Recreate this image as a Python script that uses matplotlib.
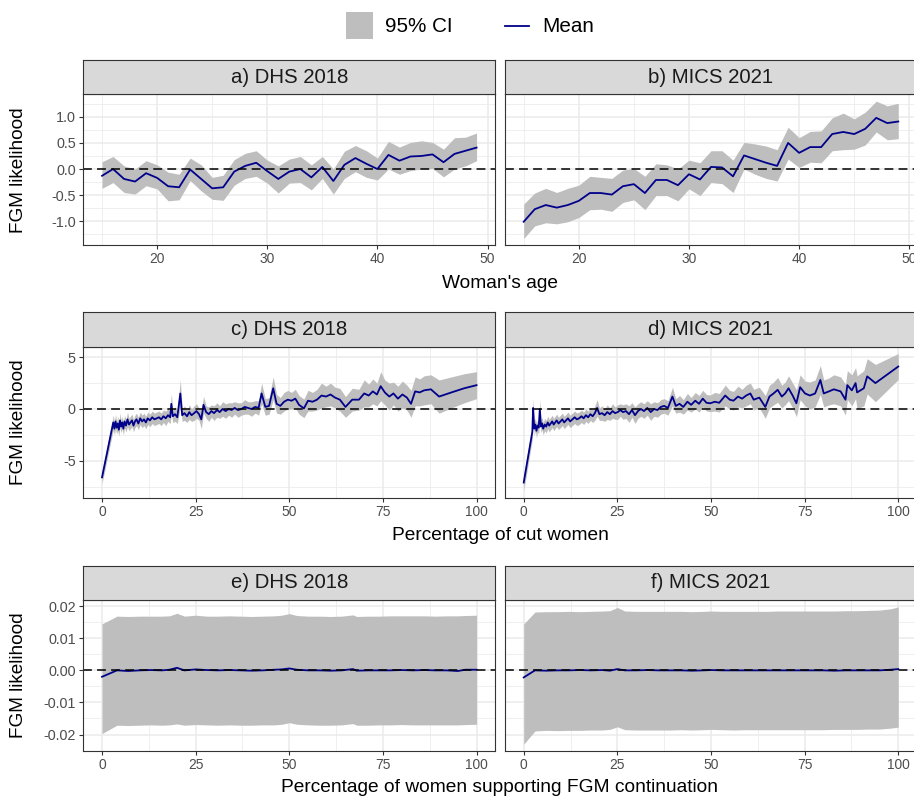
import matplotlib
matplotlib.use("agg")
import matplotlib.pyplot as plt
from matplotlib.patches import Rectangle
from matplotlib.lines import Line2D
from matplotlib.ticker import FixedLocator

plt.rcParams["font.family"] = ["Liberation Sans", "DejaVu Sans"]
plt.rcParams["axes.unicode_minus"] = False

# ---- row 1: woman's age ----
ages = list(range(15, 50))
a_mean = [-0.13, 0.00, -0.19, -0.24, -0.08, -0.17, -0.33, -0.35, -0.01, -0.19,
          -0.37, -0.35, -0.05, 0.06, 0.12, -0.04, -0.19, -0.05, 0.00, -0.16,
          0.04, -0.23, 0.08, 0.21, 0.10, 0.00, 0.27, 0.16, 0.24, 0.25,
          0.28, 0.13, 0.29, 0.35, 0.41]
a_lo = [-0.37, -0.26, -0.45, -0.48, -0.32, -0.38, -0.61, -0.59, -0.22, -0.42,
        -0.58, -0.60, -0.31, -0.18, -0.14, -0.27, -0.46, -0.27, -0.26, -0.40,
        -0.18, -0.48, -0.18, -0.05, -0.16, -0.21, 0.00, -0.10, -0.03, 0.00,
        0.01, -0.15, 0.00, 0.06, 0.16]
a_hi = [0.14, 0.24, 0.06, 0.00, 0.16, 0.08, -0.06, -0.10, 0.21, 0.08,
        -0.16, -0.12, 0.18, 0.30, 0.35, 0.17, 0.06, 0.19, 0.24, 0.08,
        0.24, 0.00, 0.34, 0.45, 0.35, 0.21, 0.53, 0.42, 0.51, 0.54,
        0.51, 0.38, 0.60, 0.61, 0.69]
b_mean = [-1.01, -0.77, -0.69, -0.74, -0.69, -0.61, -0.46, -0.46, -0.49, -0.33,
          -0.29, -0.46, -0.21, -0.21, -0.31, -0.10, -0.20, 0.04, 0.03, -0.14,
          0.26, 0.19, 0.12, 0.06, 0.50, 0.31, 0.42, 0.42, 0.67, 0.71,
          0.67, 0.77, 0.98, 0.88, 0.91]
b_lo = [-1.33, -1.09, -1.03, -1.05, -1.01, -0.93, -0.78, -0.77, -0.81, -0.64,
        -0.59, -0.78, -0.51, -0.51, -0.61, -0.38, -0.51, -0.26, -0.28, -0.45,
        0.00, -0.10, -0.18, -0.23, 0.19, 0.03, 0.13, 0.12, 0.35, 0.37,
        0.38, 0.46, 0.71, 0.56, 0.58]
b_hi = [-0.67, -0.46, -0.37, -0.45, -0.37, -0.31, -0.14, -0.16, -0.18, -0.02,
        0.01, -0.14, 0.10, 0.08, 0.00, 0.17, 0.12, 0.35, 0.35, 0.17,
        0.51, 0.48, 0.44, 0.37, 0.80, 0.60, 0.72, 0.73, 0.98, 1.07,
        0.96, 1.09, 1.30, 1.21, 1.26]

# ---- row 2: percentage of cut women ----
c_x = [0, 3.0, 3.3, 3.6, 3.9, 4.2, 4.5, 4.8, 5.1, 5.4,
       5.7, 6.0, 6.4, 6.8, 7.2, 7.6, 8.0, 8.4, 8.8, 9.2,
       9.7, 10.2, 10.7, 11.2, 11.7, 12.2, 12.8, 13.4, 14.0, 14.6,
       15.2, 15.8, 16.4, 17.0, 17.6, 18.2, 18.5, 18.9, 19.5, 20.1,
       20.9, 21.4, 22.0, 22.7, 23.3, 23.9, 24.6, 25.2, 25.9, 26.5,
       27.1, 27.8, 28.5, 29.2, 29.9, 30.7, 31.4, 32.2, 33.0, 33.8,
       34.6, 35.4, 36.3, 37.2, 38.1, 39.0, 39.9, 40.9, 41.8, 42.6,
       43.6, 44.6, 45.7, 46.6, 47.6, 48.6, 49.6, 50.6, 51.6, 52.6,
       53.9, 55.0, 56.2, 57.4, 58.6, 59.8, 61.0, 62.2, 63.5, 65.0,
       66.8, 68.6, 70.0, 71.2, 72.3, 73.4, 74.4, 75.5, 76.7, 77.8,
       79.0, 80.2, 81.4, 82.5, 83.6, 84.8, 86.0, 87.8, 90.0, 93.3,
       96.7, 100]
c_mean = [-6.6, -1.3, -1.9, -1.2, -1.8, -1.4, -2.0, -1.1, -1.7, -1.3,
          -1.9, -1.2, -1.6, -1.0, -1.5, -1.3, -1.1, -1.6, -1.2, -1.0,
          -1.4, -0.9, -1.2, -1.0, -1.3, -0.9, -1.1, -0.8, -1.0, -0.9,
          -0.8, -1.0, -0.7, -0.9, -0.6, -0.8, 0.5, -0.7, -0.5, -0.8,
          1.5, -0.6, -0.4, -0.7, -0.3, -0.6, -0.4, -0.2, -0.5, -1.0,
          0.4, -0.3, -0.5, -0.2, -0.4, -0.1, -0.3, 0.0, -0.2, 0.0,
          -0.1, 0.1, -0.1, 0.0, 0.2, 0.1, 0.0, 0.2, 0.1, 1.5,
          0.2, 0.3, 2.0, 0.5, 0.3, 0.7, 0.9, 0.8, 1.0, 0.4,
          0.06, 0.8, 0.7, 0.9, 1.3, 1.2, 1.4, 1.1, 0.9, 0.2,
          0.9, 0.9, 1.5, 1.3, 1.7, 1.4, 2.2, 1.6, 1.2, 1.5,
          1.0, 1.4, 1.1, 0.5, 1.7, 1.6, 1.8, 1.9, 1.2, 1.6,
          2.0, 2.3]
c_half = [0.6, 0.7, 0.6, 0.7, 0.6, 0.7, 0.6, 0.7, 0.6, 0.6,
          0.6, 0.6, 0.6, 0.7, 0.6, 0.6, 0.6, 0.6, 0.6, 0.6,
          0.6, 0.6, 0.6, 0.6, 0.6, 0.6, 0.6, 0.6, 0.6, 0.6,
          0.6, 0.6, 0.6, 0.7, 0.6, 0.6, 1.0, 0.6, 0.7, 0.6,
          1.3, 0.6, 0.7, 0.6, 0.7, 0.6, 0.7, 0.7, 0.6, 0.9,
          0.8, 0.6, 0.7, 0.6, 0.7, 0.7, 0.6, 0.7, 0.7, 0.6,
          0.7, 0.6, 0.7, 0.6, 0.7, 0.6, 0.7, 0.6, 0.7, 1.0,
          0.8, 0.8, 1.1, 0.9, 0.8, 0.9, 0.9, 0.8, 0.9, 0.9,
          0.9, 1.0, 0.9, 1.0, 1.2, 1.0, 1.1, 1.0, 1.1, 1.0,
          1.1, 1.0, 1.3, 1.1, 1.2, 1.1, 1.4, 1.2, 1.3, 1.1,
          1.2, 1.3, 1.2, 1.3, 1.4, 1.3, 1.4, 1.4, 1.6, 1.5,
          1.4, 1.3]
d_x = [0, 2.3, 2.5, 2.8, 3.1, 3.4, 3.7, 4.0, 4.3, 4.6,
       4.9, 5.2, 5.6, 6.0, 6.4, 6.8, 7.2, 7.6, 8.0, 8.4,
       8.8, 9.3, 9.8, 10.3, 10.8, 11.3, 11.8, 12.4, 13.0, 13.6,
       14.2, 14.8, 15.4, 16.0, 16.6, 17.2, 17.8, 18.4, 19.0, 19.6,
       20.2, 20.9, 21.6, 22.3, 23.0, 23.7, 24.4, 25.1, 25.8, 26.5,
       27.3, 28.1, 28.9, 29.7, 30.5, 31.3, 32.1, 33.0, 33.9, 34.8,
       35.7, 36.6, 37.5, 38.5, 39.7, 40.6, 41.6, 42.6, 43.7, 44.7,
       45.8, 46.8, 47.8, 48.8, 49.8, 51.0, 52.2, 53.8, 55.0, 56.0,
       57.2, 58.3, 59.4, 60.5, 61.4, 62.9, 64.5, 65.6, 66.7, 67.8,
       68.9, 69.8, 70.7, 71.8, 72.8, 73.8, 75.1, 76.4, 77.8, 79.2,
       80.1, 81.5, 82.8, 84.6, 85.9, 86.4, 87.6, 88.6, 89.0, 90.8,
       91.7, 93.9, 100]
d_mean = [-7.1, -2.2, 0.1, -1.9, -1.5, -2.1, -1.6, -1.8, 0.0, -1.7,
          -1.4, -1.9, -1.5, -1.7, -1.3, -1.6, -1.4, -1.2, -1.5, -1.3,
          -1.1, -1.4, -1.2, -1.0, -1.3, -1.1, -0.9, -1.2, -1.0, -0.8,
          -1.0, -0.9, -0.7, -0.9, -0.6, -0.8, -0.5, -0.7, -0.4, 0.1,
          -0.5, -0.4, -0.6, -0.3, -0.5, -0.2, -0.4, -0.3, -0.1, -0.3,
          -0.2, -0.5, -0.1, -0.6, -0.2, 0.0, -0.2, 0.1, -0.3, 0.0,
          -0.1, 0.2, 0.3, 0.1, 1.2, 0.3, 0.5, 0.2, 0.7, 0.4,
          0.8, 0.5, 1.0, 0.6, 0.55, 0.7, 0.6, 1.3, 0.9, 0.8,
          1.2, 1.0, 1.3, 1.5, 0.9, 1.1, 0.2, 1.2, 1.5, 1.85,
          1.2, 1.5, 2.0, 1.3, 0.55, 2.1, 1.5, 1.3, 1.5, 2.8,
          1.5, 1.7, 1.9, 1.7, 0.9, 2.3, 1.8, 2.5, 1.6, 2.0,
          3.15, 2.5, 4.1]
d_half = [0.8, 0.7, 0.9, 0.7, 0.6, 0.7, 0.6, 0.6, 0.9, 0.6,
          0.6, 0.6, 0.6, 0.6, 0.6, 0.6, 0.6, 0.6, 0.6, 0.6,
          0.6, 0.6, 0.6, 0.6, 0.6, 0.6, 0.6, 0.6, 0.6, 0.6,
          0.6, 0.6, 0.6, 0.6, 0.6, 0.6, 0.6, 0.6, 0.7, 0.8,
          0.6, 0.7, 0.6, 0.7, 0.6, 0.7, 0.6, 0.7, 0.6, 0.7,
          0.7, 0.8, 0.7, 0.8, 0.7, 0.7, 0.7, 0.7, 0.8, 0.7,
          0.7, 0.7, 0.7, 0.7, 0.9, 0.7, 0.8, 0.7, 0.8, 0.7,
          0.8, 0.8, 0.8, 0.8, 0.8, 0.9, 0.9, 1.0, 0.9, 0.9,
          1.0, 0.9, 1.0, 1.0, 1.0, 1.0, 1.1, 1.1, 1.1, 1.2,
          1.1, 1.1, 1.2, 1.2, 1.3, 1.2, 1.2, 1.3, 1.3, 1.4,
          1.3, 1.3, 1.4, 1.4, 1.5, 1.4, 1.5, 1.5, 1.6, 1.7,
          1.7, 1.8, 1.25]

# ---- row 3: percentage of women supporting continuation ----
e_x = [0, 4, 7, 10, 13, 16, 18, 20, 22, 25,
       28, 31, 34, 37, 40, 43, 46, 48, 50, 52,
       55, 58, 61, 64, 67, 68, 71, 74, 77, 80,
       83, 86, 89, 92, 95, 97, 100]
e_mean = [-0.0020, 0.0000, -0.0002, 0.0000, 0.0001, 0.0000, 0.0002, 0.0008, 0.0000, 0.0003,
          0.0001, 0.0000, 0.0001, 0.0000, -0.0001, 0.0000, 0.0002, 0.0003, 0.0006, 0.0002,
          0.0000, 0.0000, -0.0001, 0.0000, 0.0004, -0.0001, 0.0000, 0.0000, 0.0000, 0.0001,
          0.0000, 0.0001, 0.0000, 0.0000, -0.0002, 0.0002, 0.0002]
e_lo = [-0.0197, -0.0171, -0.0172, -0.0171, -0.0170, -0.0171, -0.0170, -0.0167, -0.0171, -0.0169,
        -0.0170, -0.0171, -0.0170, -0.0171, -0.0171, -0.0170, -0.0170, -0.0168, -0.0163, -0.0168,
        -0.0170, -0.0171, -0.0171, -0.0170, -0.0166, -0.0171, -0.0171, -0.0170, -0.0170, -0.0169,
        -0.0170, -0.0170, -0.0170, -0.0170, -0.0170, -0.0169, -0.0168]
e_hi = [0.0145, 0.0169, 0.0168, 0.0169, 0.0169, 0.0169, 0.0170, 0.0178, 0.0169, 0.0172,
        0.0169, 0.0169, 0.0170, 0.0169, 0.0168, 0.0169, 0.0170, 0.0172, 0.0177, 0.0171,
        0.0169, 0.0169, 0.0168, 0.0169, 0.0173, 0.0168, 0.0169, 0.0169, 0.0170, 0.0170,
        0.0170, 0.0170, 0.0169, 0.0170, 0.0170, 0.0171, 0.0172]
f_x = [0, 3, 6, 9, 12, 15, 18, 21, 23, 25,
       27, 30, 33, 36, 39, 42, 45, 48, 50, 53,
       56, 59, 62, 65, 68, 71, 74, 77, 80, 83,
       86, 89, 92, 95, 98, 100]
f_mean = [-0.0022, 0.0000, -0.0001, 0.0000, 0.0000, 0.0001, 0.0000, 0.0001, -0.0001, 0.0004,
          0.0000, 0.0000, 0.0001, 0.0000, 0.0000, 0.0000, -0.0001, 0.0000, 0.0001, 0.0000,
          0.0000, 0.0000, 0.0000, 0.0000, 0.0000, 0.0000, 0.0000, 0.0000, 0.0000, -0.0001,
          0.0000, 0.0000, 0.0000, 0.0000, 0.0002, 0.0004]
f_lo = [-0.0230, -0.0189, -0.0187, -0.0188, -0.0187, -0.0187, -0.0186, -0.0186, -0.0184, -0.0176,
        -0.0185, -0.0186, -0.0186, -0.0186, -0.0186, -0.0185, -0.0186, -0.0185, -0.0184, -0.0185,
        -0.0186, -0.0185, -0.0185, -0.0185, -0.0185, -0.0185, -0.0185, -0.0185, -0.0185, -0.0184,
        -0.0184, -0.0184, -0.0183, -0.0183, -0.0180, -0.0177]
f_hi = [0.0145, 0.0182, 0.0183, 0.0183, 0.0184, 0.0183, 0.0184, 0.0185, 0.0186, 0.0196,
        0.0185, 0.0184, 0.0184, 0.0184, 0.0184, 0.0184, 0.0183, 0.0184, 0.0185, 0.0184,
        0.0184, 0.0184, 0.0184, 0.0184, 0.0185, 0.0185, 0.0185, 0.0185, 0.0185, 0.0185,
        0.0186, 0.0186, 0.0187, 0.0188, 0.0192, 0.0198]

c_lo = [m - h for m, h in zip(c_mean, c_half)]
c_hi = [m + h for m, h in zip(c_mean, c_half)]
d_lo = [m - h for m, h in zip(d_mean, d_half)]
d_hi = [m + h for m, h in zip(d_mean, d_half)]

W, H = 914, 796
BAND = "#BEBEBE"
LINE = "#00008B"
DARK = "#333333"
GRID = "#EBEBEB"

fig = plt.figure(figsize=(W / 100, H / 100), dpi=100)


def rect(left, top, right, bottom):
    return [left / W, 1 - bottom / H, (right - left) / W, (bottom - top) / H]


def expand(lo, hi):
    pad = (hi - lo) * 0.05
    return lo - pad, hi + pad


def panel(left, top, title, x, mean, lo, hi, xlim, ylim, xt, xm, yt, ym, ylabels):
    right, bottom = left + 412, top + 151
    ax = fig.add_axes(rect(left, top, right, bottom))
    ax.fill_between(x, lo, hi, color=BAND, lw=0, zorder=2)
    ax.plot(x, mean, color=LINE, lw=1.3, zorder=3)
    ax.axhline(0, color="black", lw=1.1, ls=(0, (5.8, 3.4)), zorder=4)
    ax.set_xlim(*xlim)
    ax.set_ylim(*ylim)
    ax.xaxis.set_major_locator(FixedLocator(xt))
    ax.xaxis.set_minor_locator(FixedLocator(xm))
    ax.yaxis.set_major_locator(FixedLocator(yt))
    ax.yaxis.set_minor_locator(FixedLocator(ym))
    ax.set_xticklabels([f"{v:g}" for v in xt])
    ax.grid(which="major", color=GRID, lw=1.1, zorder=0)
    ax.grid(which="minor", color=GRID, lw=0.55, zorder=0)
    ax.set_axisbelow(True)
    ax.tick_params(which="minor", length=0)
    ax.tick_params(which="major", length=3.2, width=0.8, color=DARK,
                   labelcolor="#4D4D4D")
    ax.tick_params(axis="x", pad=1.8, labelsize=9.9)
    ax.tick_params(axis="y", pad=2.2, labelsize=10.4)
    if ylabels is None:
        ax.tick_params(axis="y", length=0, labelleft=False)
    else:
        ax.set_yticklabels(ylabels)
    for sp in ax.spines.values():
        sp.set_color(DARK)
        sp.set_linewidth(0.8)
        sp.set_zorder(5)
    # facet strip
    sx = fig.add_axes(rect(left, top - 34.5, right, top))
    sx.set_facecolor("#D9D9D9")
    sx.set_xticks([])
    sx.set_yticks([])
    for sp in sx.spines.values():
        sp.set_color(DARK)
        sp.set_linewidth(0.8)
    sx.text(0.5, 0.5, title, transform=sx.transAxes, ha="center", va="center",
            fontsize=14.7, color="#1A1A1A")
    return ax


rows = [
    dict(top=94.3, xlab="Woman's age", xlab_y=283,
         panels=[("a) DHS 2018", ages, a_mean, a_lo, a_hi),
                 ("b) MICS 2021", ages, b_mean, b_lo, b_hi)],
         xlim=expand(15, 49), xt=[20, 30, 40, 50], xm=[15, 25, 35, 45],
         yt=[-1, -0.5, 0, 0.5, 1], ym=[-1.25, -0.75, -0.25, 0.25, 0.75, 1.25],
         ylabels=["-1.0", "-0.5", "0.0", "0.5", "1.0"]),
    dict(top=346.7, xlab="Percentage of cut women", xlab_y=535,
         panels=[("c) DHS 2018", c_x, c_mean, c_lo, c_hi),
                 ("d) MICS 2021", d_x, d_mean, d_lo, d_hi)],
         xlim=expand(0, 100), xt=[0, 25, 50, 75, 100], xm=[12.5, 37.5, 62.5, 87.5],
         yt=[-5, 0, 5], ym=[-7.5, -2.5, 2.5], ylabels=["-5", "0", "5"]),
    dict(top=600, xlab="Percentage of women supporting FGM continuation", xlab_y=787,
         panels=[("e) DHS 2018", e_x, e_mean, e_lo, e_hi),
                 ("f) MICS 2021", f_x, f_mean, f_lo, f_hi)],
         xlim=expand(0, 100), xt=[0, 25, 50, 75, 100], xm=[12.5, 37.5, 62.5, 87.5],
         yt=[-0.02, -0.01, 0, 0.01, 0.02], ym=[-0.015, -0.005, 0.005, 0.015],
         ylabels=["-0.02", "-0.01", "0.00", "0.01", "0.02"]),
]

for row in rows:
    lows = [v for p in row["panels"] for v in p[3]]
    highs = [v for p in row["panels"] for v in p[4]]
    ylim = expand(min(lows), max(highs))
    for i, (title, x, mean, lo, hi) in enumerate(row["panels"]):
        left = 83.3 if i == 0 else 505
        panel(left, row["top"], title, x, mean, lo, hi, row["xlim"], ylim,
              row["xt"], row["xm"], row["yt"], row["ym"],
              row["ylabels"] if i == 0 else None)
    fig.text(500 / W, 1 - row["xlab_y"] / H, row["xlab"], ha="center",
             va="center", fontsize=13.8)
    fig.text(18.5 / W, 1 - (row["top"] + 75.5) / H, "FGM likelihood",
             rotation=90, ha="center", va="center", fontsize=13.7)

# legend
fig.patches.append(Rectangle((346 / W, 1 - 39 / H), 27 / W, 27 / H,
                             transform=fig.transFigure, color=BAND, lw=0))
fig.text(385 / W, 1 - 26 / H, "95% CI", ha="left", va="center", fontsize=14.9)
fig.lines.append(Line2D([505 / W, 529 / W], [1 - 26 / H, 1 - 26 / H],
                        transform=fig.transFigure, color=LINE, lw=1.3))
fig.text(542 / W, 1 - 26 / H, "Mean", ha="left", va="center", fontsize=14.9)

fig.savefig("out.png", dpi=100)
